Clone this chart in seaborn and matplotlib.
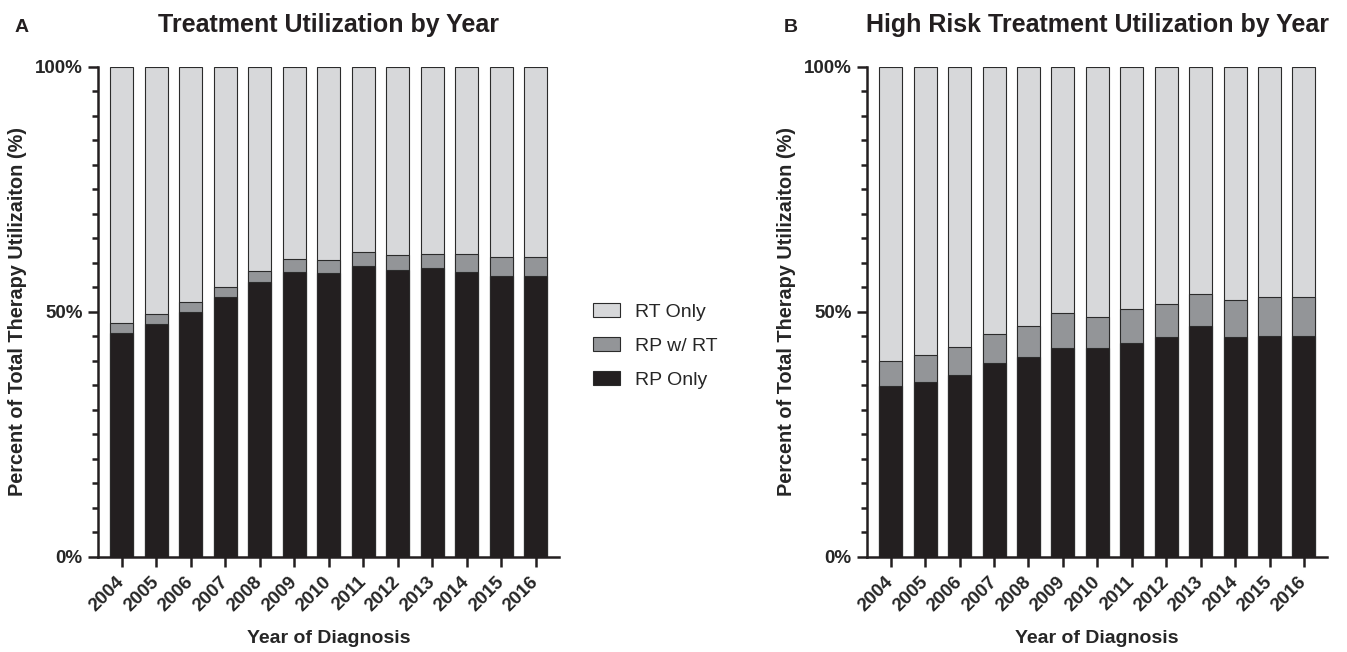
import numpy as np
import pandas as pd
import matplotlib
matplotlib.use('Agg')
import matplotlib.pyplot as plt
import seaborn as sns
from matplotlib.patches import Patch
from matplotlib.ticker import MultipleLocator, FixedLocator, FixedFormatter

# ===================== data (%) =====================
years = ['2004', '2005', '2006', '2007', '2008', '2009', '2010',
         '2011', '2012', '2013', '2014', '2015', '2016']

# panel A: all patients
a_rp_only = [45.6, 47.4, 49.9, 53.1, 56.0, 58.2, 57.8, 59.4, 58.6, 58.9, 58.2, 57.3, 57.2]
a_rp_rt   = [2.1, 2.2, 2.1, 2.0, 2.3, 2.6, 2.8, 2.8, 2.9, 2.9, 3.5, 3.9, 4.0]
a_rt_only = [52.3, 50.4, 48.0, 44.9, 41.7, 39.2, 39.4, 37.8, 38.5, 38.2, 38.3, 38.8, 38.8]

# panel B: high risk
b_rp_only = [34.8, 35.6, 37.0, 39.6, 40.7, 42.5, 42.5, 43.7, 44.8, 47.0, 44.8, 45.0, 45.0]
b_rp_rt   = [5.2, 5.5, 5.8, 5.9, 6.4, 7.3, 6.4, 6.9, 6.8, 6.7, 7.5, 8.1, 7.9]
b_rt_only = [60.0, 58.9, 57.2, 54.5, 52.9, 50.2, 51.1, 49.4, 48.4, 46.3, 47.7, 46.9, 47.1]

series_names = ['RT Only', 'RP w/ RT', 'RP Only']
colors = {'RT Only': '#d7d8da', 'RP w/ RT': '#939598', 'RP Only': '#231f20'}
titles = ['Treatment Utilization by Year', 'High Risk Treatment Utilization by Year']
panel_tags = ['A', 'B']

# ===================== style =====================
sns.set_style('ticks')
plt.rcParams['font.family'] = ['Liberation Sans', 'DejaVu Sans']
plt.rcParams['font.weight'] = 'bold'

fig = plt.figure(figsize=(13.47, 6.52), dpi=100)
ax_a = fig.add_axes([98 / 1347, 95.3 / 652, 461 / 1347, 490 / 652])
ax_b = fig.add_axes([867 / 1347, 95.3 / 652, 460 / 1347, 490 / 652])


def draw_panel(ax, rp_only, rp_rt, rt_only, title, tag):
    df = pd.DataFrame({'year': years, 'RP Only': rp_only,
                       'RP w/ RT': rp_rt, 'RT Only': rt_only})
    # cumulative tops, tallest drawn first so the shorter ones sit on top
    df['top_rt'] = df['RP Only'] + df['RP w/ RT'] + df['RT Only']
    df['top_rprt'] = df['RP Only'] + df['RP w/ RT']
    df['top_rp'] = df['RP Only']
    for col, name in [('top_rt', 'RT Only'), ('top_rprt', 'RP w/ RT'), ('top_rp', 'RP Only')]:
        sns.barplot(data=df, x='year', y=col, color=colors[name], saturation=1,
                    width=0.67, edgecolor='#2b2b2b', linewidth=0.8, ax=ax)

    ax.set_xlim(-0.69, 12.67)
    ax.set_ylim(0, 100)
    sns.despine(ax=ax)
    for sp in ['left', 'bottom']:
        ax.spines[sp].set_linewidth(1.8)
        ax.spines[sp].set_color('#231f20')

    ax.yaxis.set_major_locator(FixedLocator([0, 50, 100]))
    ax.yaxis.set_major_formatter(FixedFormatter(['0%', '50%', '100%']))
    ax.yaxis.set_minor_locator(MultipleLocator(5))
    ax.tick_params(axis='y', which='major', length=7.5, width=1.8, labelsize=13.5, color='#231f20')
    ax.tick_params(axis='y', which='minor', length=4, width=1.8, color='#231f20')
    ax.tick_params(axis='x', which='major', length=7.5, width=1.8, labelsize=13.5,
                   color='#231f20', pad=9)
    for lab in ax.get_yticklabels():
        lab.set_fontweight('bold')
    for lab in ax.get_xticklabels():
        lab.set_fontweight('bold')
        lab.set_rotation(45)
        lab.set_ha('right')
        lab.set_va('center')
        lab.set_rotation_mode('anchor')

    ax.set_xlabel('Year of Diagnosis', fontsize=14, fontweight='bold')
    ax.set_ylabel('Percent of Total Therapy Utilizaiton (%)', fontsize=14.3, fontweight='bold')
    ax.xaxis.set_label_coords(0.5, -0.15)
    ax.yaxis.set_label_coords(-0.155, 0.5)

    pos = ax.get_position()
    fig.text(pos.x0 + pos.width / 2, 1 - 32 / 652, title, ha='center', va='baseline',
             fontsize=18, fontweight='bold', color='#231f20')
    fig.text(pos.x0 - 83 / 1347, 1 - 32 / 652, tag, ha='left', va='baseline',
             fontsize=14, fontweight='bold', color='#231f20')


draw_panel(ax_a, a_rp_only, a_rp_rt, a_rt_only, titles[0], panel_tags[0])
draw_panel(ax_b, b_rp_only, b_rp_rt, b_rt_only, titles[1], panel_tags[1])

handles = [Patch(facecolor=colors[n], edgecolor='#2b2b2b', linewidth=0.8, label=n)
           for n in series_names]
fig.legend(handles=handles, loc='center left', bbox_to_anchor=(575 / 1347, 1 - 346 / 652),
           frameon=False, prop={'size': 14, 'weight': 'normal'},
           handlelength=1.4, handleheight=0.7, labelspacing=0.85, handletextpad=0.8)

plt.savefig('out.png', dpi=100)
plt.close()
